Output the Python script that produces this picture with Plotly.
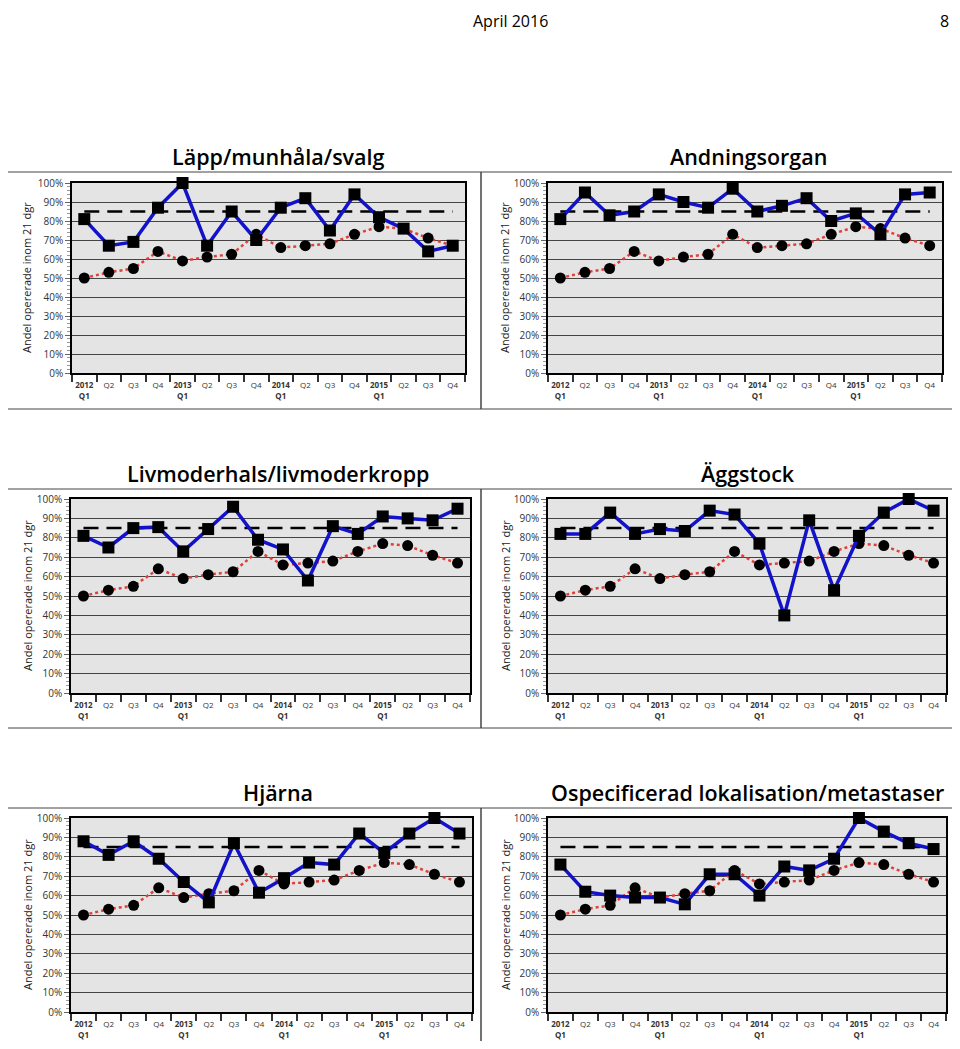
import plotly.graph_objects as go

# Quarter labels along the x axis
QUARTERS = ["2012<br>Q1", "Q2", "Q3", "Q4",
            "2013<br>Q1", "Q2", "Q3", "Q4",
            "2014<br>Q1", "Q2", "Q3", "Q4",
            "2015<br>Q1", "Q2", "Q3", "Q4"]

# National reference (red dotted line, circles)
NATIONAL = [50, 53, 55, 64, 59, 61, 62.5, 73, 66, 67, 68, 73, 77, 76, 71, 67]
TARGET = 85

TITLES = ["Läpp/munhåla/svalg", "Andningsorgan", "Livmoderhals/livmoderkropp",
          "Äggstock", "Hjärna", "Ospecificerad lokalisation/metastaser"]

LAPP = [81, 67, 69, 87, 100, 67, 85, 70, 87, 92, 75, 94, 82, 76, 64, 67]
ANDNING = [81, 95, 83, 85, 94, 90, 87, 97, 85, 88, 92, 80, 84, 73, 94, 95]
LIVMODER = [81, 75, 85, 85.5, 73, 84.5, 96, 79, 74, 58, 86, 82, 91, 90, 89, 95]
AGGSTOCK = [82, 82, 93, 82, 84.5, 83.5, 94, 92, 77, 40, 89, 53, 81, 93, 100, 94]
HJARNA = [88, 81, 88, 79, 67, 56.5, 87, 61.5, 69, 77, 76, 92, 82, 92, 100, 92]
OSPEC = [76, 62, 60, 59, 59, 55.5, 71, 71, 60, 75, 73, 79, 100, 93, 87, 84]

SERIES = [LAPP, ANDNING, LIVMODER, AGGSTOCK, HJARNA, OSPEC]
Y_TICKS = [0, 10, 20, 30, 40, 50, 60, 70, 80, 90, 100]
Y_TITLE = "Andel opererade inom 21 dgr"

# page is 960x1049; the html body adds an 8px margin round the figure
PAGE_W, PAGE_H, OFFSET = 960, 1049, 8
W, H = PAGE_W - 2 * OFFSET, PAGE_H - 2 * OFFSET

# plot areas (left, right, top, bottom), outer frames and title centres, page pixels
PLOTS = [(72, 465, 183, 373), (548, 942, 183, 373),
         (71, 470, 499, 693), (548, 946, 499, 693),
         (71, 472, 818, 1012), (548, 946, 818, 1012)]
FRAMES = [(3, 481, 172, 409), (481, 957, 172, 409),
          (3, 481, 489, 728), (481, 957, 489, 728),
          (3, 481, 808, 1047), (481, 957, 808, 1047)]
TITLE_POS = [(278, 157), (748, 157), (278, 473), (748, 473), (278, 792), (747, 792)]

FONT = "Open Sans"


def px_x(v):
    return (v - OFFSET) / W


def px_y(v):
    return 1 - (v - OFFSET) / H


def tick_label(q):
    if "<br>" in q:
        year, quarter = q.split("<br>")
        return f"<b>{year}</b><br><b>{quarter}</b>"
    return q


x = list(range(len(QUARTERS)))
boundaries = [i - 0.5 for i in range(len(QUARTERS) + 1)]

fig = go.Figure()
shapes = []
annotations = []

for i, (title, values) in enumerate(zip(TITLES, SERIES)):
    n = i + 1
    xa = f"x{n}" if n > 1 else "x"
    ya = f"y{n}" if n > 1 else "y"
    left, right, top, bottom = PLOTS[i]

    fig.add_trace(go.Scatter(
        x=x, y=NATIONAL, xaxis=xa, yaxis=ya, mode="lines+markers",
        line=dict(color="#e0403a", width=2.5, dash="dot"),
        marker=dict(symbol="circle", size=11, color="black"),
        cliponaxis=False, showlegend=False,
    ))
    fig.add_trace(go.Scatter(
        x=[x[0], x[-1]], y=[TARGET, TARGET], xaxis=xa, yaxis=ya, mode="lines",
        line=dict(color="black", width=2.5, dash="15px,8px"),
        showlegend=False,
    ))
    fig.add_trace(go.Scatter(
        x=x, y=values, xaxis=xa, yaxis=ya, mode="lines+markers",
        line=dict(color="#1212c8", width=3.5),
        marker=dict(symbol="square", size=12, color="black"),
        cliponaxis=False, showlegend=False,
    ))

    fig.layout[f"xaxis{n if n > 1 else ''}"] = dict(
        domain=[px_x(left), px_x(right)], anchor=ya,
        range=[-0.5, len(QUARTERS) - 0.5],
        tickmode="array", tickvals=x, ticktext=[tick_label(q) for q in QUARTERS],
        ticks="", ticklabelstandoff=4,
        tickfont=dict(family=FONT, size=8, color="#333"),
        showgrid=False, zeroline=False, fixedrange=True,
        showline=True, linecolor="black", linewidth=1.5, mirror=True,
        minor=dict(tickmode="array", tickvals=boundaries, ticks="outside",
                   ticklen=7, tickcolor="#333", tickwidth=1.5, showgrid=False),
    )
    fig.layout[f"yaxis{n if n > 1 else ''}"] = dict(
        domain=[px_y(bottom), px_y(top)], anchor=xa,
        range=[0, 100], tickmode="array", tickvals=Y_TICKS,
        ticktext=[f"{v}%" for v in Y_TICKS],
        ticks="outside", ticklen=5, tickcolor="#666",
        tickfont=dict(family=FONT, size=10, color="#333"),
        showgrid=True, gridcolor="#444", gridwidth=1, zeroline=False,
        showline=True, linecolor="black", linewidth=1.5, mirror=True,
        fixedrange=True,
        minor=dict(dtick=2, ticks="outside", ticklen=3, tickcolor="#999",
                   showgrid=False),
    )

    fl, fr, ft, fb = FRAMES[i]
    shapes.append(dict(type="rect", xref="paper", yref="paper",
                       x0=px_x(fl), x1=px_x(fr), y0=px_y(fb), y1=px_y(ft),
                       line=dict(color="#444", width=1), layer="below"))
    tx, ty = TITLE_POS[i]
    annotations.append(dict(
        text=title, xref="paper", yref="paper",
        x=px_x(tx), y=px_y(ty), xanchor="center", yanchor="middle",
        showarrow=False, font=dict(family=FONT, size=21.5, color="black", weight=600),
    ))
    annotations.append(dict(
        text=Y_TITLE, xref="paper", yref="paper", textangle=-90,
        x=px_x(fl + 24), y=px_y((top + bottom) / 2), xanchor="center", yanchor="middle",
        showarrow=False, font=dict(family=FONT, size=11, color="#222"),
    ))

# page header, kept just inside the figure's top edge
annotations.append(dict(text="April 2016", xref="paper", yref="paper",
                        x=px_x(510), y=1, xanchor="center", yanchor="top",
                        showarrow=False, font=dict(family=FONT, size=16, color="black")))
annotations.append(dict(text="8", xref="paper", yref="paper",
                        x=px_x(944), y=1, xanchor="center", yanchor="top",
                        showarrow=False, font=dict(family=FONT, size=16, color="black")))

fig.update_layout(
    width=W, height=H,
    margin=dict(l=0, r=0, t=0, b=0, autoexpand=False),
    paper_bgcolor="white", plot_bgcolor="#e4e4e4",
    shapes=shapes, annotations=annotations, showlegend=False,
)

fig.write_html("out.html")
